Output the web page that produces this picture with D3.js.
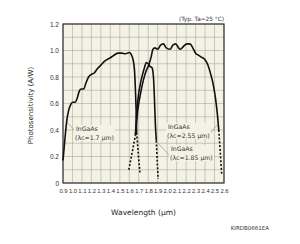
<!DOCTYPE html>
<html>
<head>
<meta charset="utf-8">
<title>Photosensitivity</title>
<style>
body { margin: 0; background: #fff; }
svg { display: block; font-family: "DejaVu Sans", Verdana, sans-serif; }
.tick text { fill: #333; }
</style>
</head>
<body>
<svg width="300" height="244"></svg>
<script src="https://cdn.jsdelivr.net/npm/d3@7"></script>
<script>

// wavelength (um) / photosensitivity (A/W)
var wl17 = [0.90, 0.92, 0.94, 0.96, 0.98, 1.00, 1.03, 1.05, 1.07, 1.09, 1.12, 1.14, 1.17, 1.20, 1.23, 1.26, 1.30, 1.34, 1.40, 1.45, 1.48, 1.52, 1.56, 1.60, 1.62, 1.64, 1.655, 1.665, 1.672, 1.678];
var ps17 = [0.17, 0.33, 0.47, 0.55, 0.59, 0.61, 0.61, 0.64, 0.69, 0.71, 0.71, 0.75, 0.80, 0.82, 0.83, 0.86, 0.89, 0.92, 0.945, 0.97, 0.98, 0.98, 0.975, 0.985, 0.97, 0.93, 0.85, 0.70, 0.55, 0.38];
var wl17Tail = [1.678, 1.695, 1.712];
var ps17Tail = [0.38, 0.22, 0.08];

var wl185Head = [1.595, 1.63, 1.665];
var ps185Head = [0.10, 0.23, 0.36];
var wl185 = [1.665, 1.68, 1.70, 1.72, 1.74, 1.76, 1.78, 1.80, 1.82, 1.84, 1.855, 1.865, 1.875, 1.885];
var ps185 = [0.36, 0.55, 0.68, 0.76, 0.82, 0.87, 0.91, 0.90, 0.88, 0.87, 0.80, 0.65, 0.45, 0.32];
var wl185Tail = [1.885, 1.895, 1.905];
var ps185Tail = [0.32, 0.16, 0.03];

var wl255 = [1.665, 1.69, 1.72, 1.75, 1.78, 1.80, 1.83, 1.85, 1.87, 1.90, 1.93, 1.96, 1.99, 2.03, 2.06, 2.09, 2.12, 2.14, 2.17, 2.21, 2.24, 2.27, 2.30, 2.33, 2.36, 2.40, 2.43, 2.46, 2.49, 2.51, 2.53, 2.545];
var ps255 = [0.36, 0.55, 0.68, 0.78, 0.85, 0.88, 0.95, 1.01, 1.02, 1.01, 1.04, 1.05, 1.02, 1.01, 1.04, 1.05, 1.02, 1.01, 1.03, 1.05, 1.05, 1.02, 0.98, 0.965, 0.95, 0.93, 0.89, 0.82, 0.73, 0.64, 0.52, 0.40];
var wl255Tail = [2.545, 2.56, 2.575];
var ps255Tail = [0.40, 0.24, 0.07];

var xTicks = [0.9, 1.0, 1.1, 1.2, 1.3, 1.4, 1.5, 1.6, 1.7, 1.8, 1.9, 2.0, 2.1, 2.2, 2.3, 2.4, 2.5, 2.6];
var yTicks = [0, 0.2, 0.4, 0.6, 0.8, 1.0, 1.2];

var plotL = 63, plotR = 224, plotT = 24, plotB = 183;
var bg = "#f4f2e5";

var svg = d3.select("svg");

var x = d3.scaleLinear().domain([0.9, 2.6]).range([plotL, plotR]);
var y = d3.scaleLinear().domain([0, 1.2]).range([plotB, plotT]);

svg.append("rect")
    .attr("x", plotL).attr("y", plotT)
    .attr("width", plotR - plotL).attr("height", plotB - plotT)
    .attr("fill", bg);

// grid every 0.1 both ways
svg.append("g")
  .selectAll("line")
    .data(d3.range(0.9, 2.601, 0.1))
  .enter().append("line")
    .attr("x1", function(d) { return x(d); })
    .attr("x2", function(d) { return x(d); })
    .attr("y1", plotT).attr("y2", plotB)
    .attr("stroke", "#a8a8a0").attr("stroke-width", 0.6);

svg.append("g")
  .selectAll("line")
    .data(d3.range(0, 1.201, 0.1))
  .enter().append("line")
    .attr("y1", function(d) { return y(d); })
    .attr("y2", function(d) { return y(d); })
    .attr("x1", plotL).attr("x2", plotR)
    .attr("stroke", "#a8a8a0").attr("stroke-width", 0.6);

svg.append("rect")
    .attr("x", plotL).attr("y", plotT)
    .attr("width", plotR - plotL).attr("height", plotB - plotT)
    .attr("fill", "none").attr("stroke", "#333").attr("stroke-width", 1.2);

// axes, only for labels
var xAxis = svg.append("g")
    .attr("transform", "translate(0," + plotB + ")")
    .call(d3.axisBottom(x).tickValues(xTicks).tickSize(0).tickPadding(6)
      .tickFormat(d3.format(".1f")));
xAxis.select(".domain").remove();
xAxis.selectAll("text")
    .attr("font-size", 6)
    .attr("textLength", 8.2)
    .attr("lengthAdjust", "spacingAndGlyphs");

var yAxis = svg.append("g")
    .attr("transform", "translate(" + plotL + ",0)")
    .call(d3.axisLeft(y).tickValues(yTicks).tickSize(0).tickPadding(4)
      .tickFormat(function(d) { return d === 0 ? "0" : d3.format(".1f")(d); }));
yAxis.select(".domain").remove();
yAxis.selectAll("text").attr("font-size", 6.5);

var line = d3.line()
    .x(function(d) { return x(d[0]); })
    .y(function(d) { return y(d[1]); })
    .curve(d3.curveMonotoneX);

function draw(ws, ps, dashed) {
  svg.append("path")
      .datum(d3.zip(ws, ps))
      .attr("d", line)
      .attr("fill", "none")
      .attr("stroke", "#111")
      .attr("stroke-width", 1.6)
      .attr("stroke-dasharray", dashed ? "2,1.8" : null);
}

draw(wl17, ps17, false);
draw(wl17Tail, ps17Tail, true);
draw(wl185Head, ps185Head, true);
draw(wl185, ps185, false);
draw(wl185Tail, ps185Tail, true);
draw(wl255, ps255, false);
draw(wl255Tail, ps255Tail, true);

// curve labels
function label(lx, ly, l1, l2, from, to) {
  svg.append("line")
      .attr("x1", from[0]).attr("y1", from[1])
      .attr("x2", to[0]).attr("y2", to[1])
      .attr("stroke", "#888").attr("stroke-width", 0.6);
  var g = svg.append("g").attr("font-size", 6.2);
  var t2 = g.append("text").attr("x", lx).attr("y", ly + 9)
      .attr("fill", "#333").text(l2);
  var bb = t2.node().getBBox();
  g.insert("rect", "text")
      .attr("x", bb.x - 1).attr("y", ly - 6)
      .attr("width", bb.width + 2).attr("height", 16)
      .attr("fill", bg);
  g.append("text").attr("x", lx + 1).attr("y", ly)
      .attr("fill", "#333").text(l1);
}

label(75, 131, "InGaAs", "(λc=1.7 μm)", [67, 122], [75, 131]);
label(167, 129, "InGaAs", "(λc=2.55 μm)", [217, 125], [209, 135]);
label(170, 151, "InGaAs", "(λc=1.85 μm)", [158, 143], [169, 155]);

svg.append("text")
    .attr("x", plotR).attr("y", 21)
    .attr("text-anchor", "end")
    .attr("font-size", 5.8).attr("fill", "#333")
    .text("(Typ. Ta=25 °C)");

svg.append("text")
    .attr("transform", "translate(33," + ((plotT + plotB) / 2 + 2) + ") rotate(-90)")
    .attr("text-anchor", "middle")
    .attr("font-size", 7).attr("fill", "#222")
    .text("Photosensitivity (A/W)");

svg.append("text")
    .attr("x", (plotL + plotR) / 2).attr("y", 215)
    .attr("text-anchor", "middle")
    .attr("font-size", 7.5).attr("fill", "#222")
    .text("Wavelength (μm)");

svg.append("text")
    .attr("x", 269).attr("y", 230)
    .attr("text-anchor", "end")
    .attr("font-size", 5.5).attr("fill", "#333")
    .text("KIRDB0661EA");

</script>
</body>
</html>
